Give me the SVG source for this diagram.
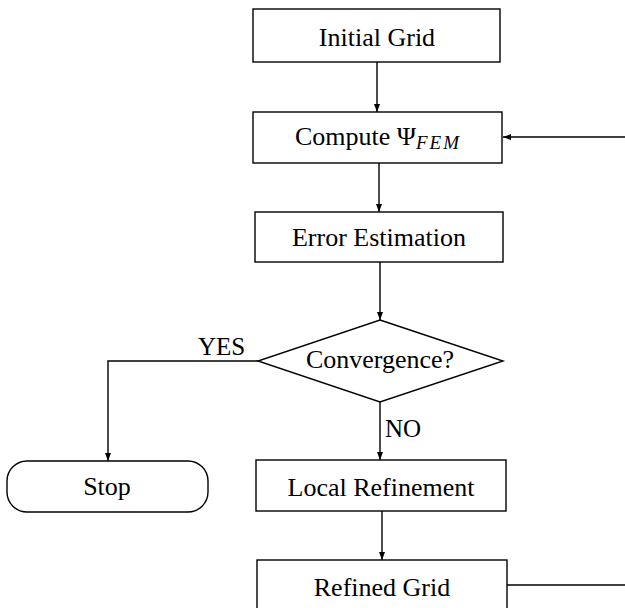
<svg xmlns="http://www.w3.org/2000/svg" width="625" height="608" viewBox="0 0 625 608">
<defs>
<marker id="ah" viewBox="0 0 8 6" refX="8" refY="3" markerWidth="8" markerHeight="6" markerUnits="userSpaceOnUse" orient="auto">
<path d="M0,0 L8,3 L0,6 Z" fill="#000"/>
</marker>
<style>
.box{fill:#fff;stroke:#000;stroke-width:1.4}
.ln{fill:none;stroke:#000;stroke-width:1.4}
.ar{fill:none;stroke:#000;stroke-width:1.4;marker-end:url(#ah)}
.t{font-family:"Liberation Serif","Times New Roman",serif;font-size:26px;fill:#000;text-anchor:middle}
.lb{font-family:"Liberation Serif","Times New Roman",serif;font-size:25px;fill:#000}
.sub{font-style:italic;font-size:19px;letter-spacing:2px}
</style>
</defs>
<rect width="625" height="608" fill="#fff"/>
<g id="connectors">
<line class="ar" x1="377" y1="62" x2="377" y2="112"/>
<line class="ar" x1="625" y1="137" x2="503" y2="137"/>
<line class="ar" x1="379" y1="163" x2="379" y2="212"/>
<line class="ar" x1="380" y1="262" x2="380" y2="320"/>
<polyline class="ar" points="258,361 108,361 108,461"/>
<line class="ar" x1="380" y1="402" x2="380" y2="460"/>
<line class="ar" x1="382" y1="511" x2="382" y2="560"/>
<line class="ln" x1="507" y1="585" x2="625" y2="585"/>
<text class="lb" x="198" y="355">YES</text>
<text class="lb" x="385" y="437">NO</text>
</g>
<g id="initial-grid">
<rect class="box" x="253" y="9" width="247" height="53"/>
<text class="t" x="377" y="46">Initial Grid</text>
</g>
<g id="compute">
<rect class="box" x="253" y="112" width="249" height="51"/>
<text class="t" x="378" y="145">Compute Ψ<tspan class="sub" dy="4">FEM</tspan></text>
</g>
<g id="error-estimation">
<rect class="box" x="255" y="212" width="248" height="50"/>
<text class="t" x="379" y="246">Error Estimation</text>
</g>
<g id="convergence">
<polygon class="box" points="380,320 503,361 380,402 258,361"/>
<text class="t" x="380" y="368">Convergence?</text>
</g>
<g id="stop">
<rect class="box" x="7" y="461" width="201" height="51" rx="20" ry="20"/>
<text class="t" x="107" y="495">Stop</text>
</g>
<g id="local-refinement">
<rect class="box" x="256" y="460" width="250" height="51"/>
<text class="t" x="381" y="496">Local Refinement</text>
</g>
<g id="refined-grid">
<rect class="box" x="257" y="560" width="250" height="60"/>
<text class="t" x="382" y="596">Refined Grid</text>
</g>
</svg>
